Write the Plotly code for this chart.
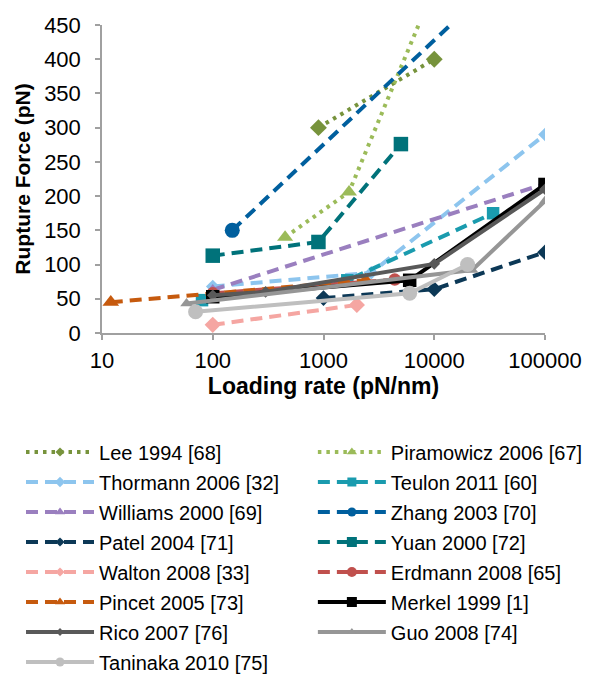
import plotly.graph_objects as go

# ---------------- data ----------------
names = ["Lee 1994 [68]", "Piramowicz 2006 [67]", "Thormann 2006 [32]", "Teulon 2011 [60]",
         "Williams 2000 [69]", "Zhang 2003 [70]", "Patel 2004 [71]", "Yuan 2000 [72]",
         "Walton 2008 [33]", "Erdmann 2008 [65]", "Pincet 2005 [73]", "Merkel 1999 [1]",
         "Rico 2007 [76]", "Guo 2008 [74]", "Taninaka 2010 [75]"]

lee_x = [900, 10000]
lee_y = [300, 400]
piramowicz_x = [450, 1700, 10000]
piramowicz_y = [140, 206, 505]
thormann_x = [100, 2700, 100000]
thormann_y = [68, 88, 290]
teulon_x = [80, 1640, 34000]
teulon_y = [48, 77, 175]
williams_x = [100, 100000]
williams_y = [63, 218]
zhang_x = [150, 100000]
zhang_y = [150, 580]
patel_x = [1000, 10000, 100000]
patel_y = [51, 64, 118]
yuan_x = [100, 900, 5000]
yuan_y = [113, 133, 276]
walton_x = [100, 2000]
walton_y = [12, 41]
erdmann_x = [100, 4400]
erdmann_y = [58, 78]
pincet_x = [12, 2400]
pincet_y = [45, 77]
merkel_x = [100, 6000, 100000]
merkel_y = [53, 77, 217]
rico_x = [100, 300, 10000, 100000]
rico_y = [55, 60, 101, 210]
guo_x = [58, 22000, 100000]
guo_y = [43, 92, 193]
taninaka_x = [70, 6000, 20000]
taninaka_y = [31, 58, 100]

xs = [lee_x, piramowicz_x, thormann_x, teulon_x, williams_x, zhang_x, patel_x, yuan_x,
      walton_x, erdmann_x, pincet_x, merkel_x, rico_x, guo_x, taninaka_x]
ys = [lee_y, piramowicz_y, thormann_y, teulon_y, williams_y, zhang_y, patel_y, yuan_y,
      walton_y, erdmann_y, pincet_y, merkel_y, rico_y, guo_y, taninaka_y]

x_tick_vals = [10, 100, 1000, 10000, 100000]
x_tick_text = ["10", "100", "1000", "10000", "100000"]
y_tick_vals = [0, 50, 100, 150, 200, 250, 300, 350, 400, 450]

# ---------------- styles ----------------
DOT = "3.5px,5px"
DASH = "12px,7px"
styles = [
    dict(color="#77933C", dash=DOT, symbol="diamond", size=13, lsize=7),
    dict(color="#9BBB59", dash=DOT, symbol="triangle-up", size=14, lsize=9),
    dict(color="#8DC5EE", dash=DASH, symbol="diamond", size=10.5, lsize=8),
    dict(color="#1A9BAE", dash=DASH, symbol="square", size=12.5, lsize=9),
    dict(color="#9A7FBF", dash=DASH, symbol="triangle-up", size=12, lsize=9),
    dict(color="#005F9E", dash=DASH, symbol="circle", size=15, lsize=9),
    dict(color="#0C3856", dash=DASH, symbol="diamond", size=12, lsize=7),
    dict(color="#00727A", dash=DASH, symbol="square", size=14.5, lsize=10),
    dict(color="#F5A6A2", dash=DASH, symbol="diamond", size=12.5, lsize=7),
    dict(color="#C0504D", dash=DASH, symbol="circle", size=12.5, lsize=10),
    dict(color="#C65A0E", dash=DASH, symbol="triangle-up", size=14.5, lsize=9),
    dict(color="#000000", dash="solid", symbol="square", size=13.5, lsize=10),
    dict(color="#595959", dash="solid", symbol="diamond", size=9, lsize=6),
    dict(color="#969696", dash="solid", symbol="triangle-up", size=11, lsize=8),
    dict(color="#BFBFBF", dash="solid", symbol="circle", size=15, lsize=9),
]
LW = 4

fig = go.Figure()
for i, (nm, x, y, st) in enumerate(zip(names, xs, ys, styles)):
    fig.add_trace(go.Scatter(
        x=x, y=y, mode="lines+markers", name=nm, showlegend=False,
        line=dict(color=st["color"], width=LW, dash=st["dash"]),
        marker=dict(symbol=st["symbol"], size=st["size"], color=st["color"]),
    ))

# legend entries (two columns)
for i, (nm, st) in enumerate(zip(names, styles)):
    fig.add_trace(go.Scatter(
        x=[None], y=[None], mode="lines+markers", name=nm, legendgroup=f"g{i}",
        legend="legend" if i % 2 == 0 else "legend2",
        line=dict(color=st["color"], width=LW, dash=st["dash"]),
        marker=dict(symbol=st["symbol"], size=st["lsize"], color=st["color"]),
    ))

FONT = "Arial, Liberation Sans, sans-serif"
AXC = "#A0A0A0"
leg_common = dict(font=dict(family=FONT, size=20, color="#000000"), itemwidth=68,
                  bgcolor="rgba(0,0,0,0)", tracegroupgap=1, traceorder="grouped",
                  xanchor="left", yanchor="top", y=-0.323)

fig.update_layout(
    width=584, height=666,
    margin=dict(l=94, r=47, t=17, b=341, autoexpand=False),
    paper_bgcolor="white", plot_bgcolor="white",
    font=dict(family=FONT, color="#000000"),
    showlegend=True,
    legend=dict(x=-0.1828, **leg_common),
    legend2=dict(x=0.476, **leg_common),
    xaxis=dict(type="log", range=[1, 5], tickmode="array", tickvals=x_tick_vals,
               ticktext=x_tick_text, showgrid=False, zeroline=False, showline=True,
               linecolor=AXC, linewidth=1.5, ticks="outside", ticklen=5, tickwidth=1.5,
               tickcolor=AXC, tickfont=dict(size=22, family=FONT), ticklabelstandoff=2,
               title=dict(text="Loading rate (pN/nm)", standoff=6,
                          font=dict(size=23, family=FONT, weight="bold"))),
    yaxis=dict(range=[0, 450], tickmode="array", tickvals=y_tick_vals, showgrid=False,
               zeroline=False, showline=True, linecolor=AXC, linewidth=1.5,
               ticks="outside", ticklen=5, tickwidth=1.5, tickcolor=AXC,
               tickfont=dict(size=22, family=FONT), ticklabelstandoff=10,
               title=dict(text="Rupture Force (pN)", standoff=8,
                          font=dict(size=21, family=FONT, weight="bold"))),
)

fig.write_html("out.html")
